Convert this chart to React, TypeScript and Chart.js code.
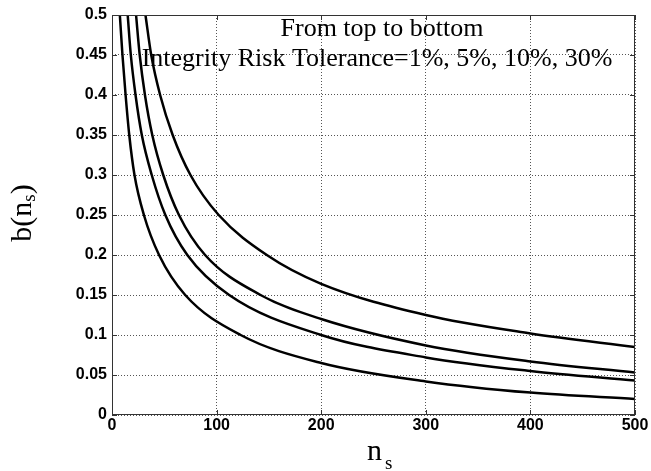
import React, { useEffect, useRef } from "react";
import { Chart, registerables } from "chart.js";

Chart.register(...registerables);

// Axis ticks
const xTickValues = [0, 100, 200, 300, 400, 500];
const yTickValues = [0, 0.05, 0.1, 0.15, 0.2, 0.25, 0.3, 0.35, 0.4, 0.45, 0.5];

// Integrity risk tolerance curves: n_s samples and b(n_s) values
const riskLabels = ["1%", "5%", "10%", "30%"];

const ns1 = [32, 37.5, 46, 58, 75, 102, 148, 200, 300, 400, 500];
const b1 = [0.5, 0.45, 0.4, 0.35, 0.3, 0.25, 0.2, 0.164, 0.125, 0.102, 0.085];

const ns5 = [23, 26.5, 31.5, 38.5, 49, 64, 89, 142, 200, 300, 400, 500];
const b5 = [0.5, 0.45, 0.4, 0.35, 0.3, 0.25, 0.2, 0.15, 0.12, 0.087, 0.067, 0.053];

const ns10 = [15, 18, 22.5, 28.5, 38, 51, 72, 112, 200, 300, 400, 500];
const b10 = [0.5, 0.45, 0.4, 0.35, 0.3, 0.25, 0.2, 0.15, 0.1, 0.072, 0.055, 0.043];

const ns30 = [7.5, 10, 13, 16.5, 21.5, 30.5, 45, 70, 123, 200, 300, 400, 500];
const b30 = [0.5, 0.45, 0.4, 0.35, 0.3, 0.25, 0.2, 0.15, 0.1, 0.065, 0.042, 0.028, 0.02];

const noteLine1 = "From top to bottom";
const noteLine2 = "Integrity Risk Tolerance=1%, 5%, 10%, 30%";

const toPoints = (xs: number[], ys: number[]) => xs.map((x, i) => ({ x, y: ys[i] }));

const SERIF = '"Liberation Serif", "Times New Roman", serif';

// Frame, inside tick marks and all serif texts
const decorPlugin = {
  id: "decor",
  afterDraw(chart: any) {
    const { ctx, chartArea: a, scales } = chart;
    const xs = scales.x;
    const ys = scales.y;
    ctx.save();
    // box
    ctx.strokeStyle = "#333";
    ctx.lineWidth = 1;
    ctx.setLineDash([]);
    ctx.strokeRect(a.left + 0.5, a.top + 0.5, a.right - a.left - 1, a.bottom - a.top - 1);
    // inside ticks
    const tl = 5;
    ctx.beginPath();
    xTickValues.forEach((v) => {
      const px = Math.round(xs.getPixelForValue(v)) + 0.5;
      ctx.moveTo(px, a.bottom);
      ctx.lineTo(px, a.bottom - tl);
      ctx.moveTo(px, a.top);
      ctx.lineTo(px, a.top + tl);
    });
    yTickValues.forEach((v) => {
      const py = Math.round(ys.getPixelForValue(v)) + 0.5;
      ctx.moveTo(a.left, py);
      ctx.lineTo(a.left + tl, py);
      ctx.moveTo(a.right, py);
      ctx.lineTo(a.right - tl, py);
    });
    ctx.stroke();

    ctx.fillStyle = "#000";
    // note inside the plot
    ctx.font = `26px ${SERIF}`;
    ctx.textAlign = "center";
    ctx.textBaseline = "alphabetic";
    ctx.fillText(noteLine1, 382, 36);
    ctx.fillText(noteLine2, 377, 66);

    // x-axis title: n with subscript s
    ctx.textAlign = "left";
    ctx.font = `30px ${SERIF}`;
    const nW = ctx.measureText("n").width;
    const nx = 367;
    ctx.fillText("n", nx, 460);
    ctx.font = `19px ${SERIF}`;
    ctx.fillText("s", nx + nW + 3, 469);

    // y-axis title: b(n_s), rotated
    ctx.translate(31, 213);
    ctx.rotate(-Math.PI / 2);
    ctx.font = `30px ${SERIF}`;
    const w1 = ctx.measureText("b(n").width;
    const w3 = ctx.measureText(")").width;
    ctx.font = `19px ${SERIF}`;
    const w2 = ctx.measureText("s").width;
    const total = w1 + w2 + w3;
    let cx = -total / 2;
    ctx.font = `30px ${SERIF}`;
    ctx.fillText("b(n", cx, 0);
    cx += w1;
    ctx.font = `19px ${SERIF}`;
    ctx.fillText("s", cx, 4);
    cx += w2;
    ctx.font = `30px ${SERIF}`;
    ctx.fillText(")", cx, 0);
    ctx.restore();
  },
};

const fmt = (v: number) => {
  const r = Math.round(v * 100) / 100;
  return String(r);
};

export default function App() {
  const canvasRef = useRef<HTMLCanvasElement | null>(null);

  useEffect(() => {
    if (!canvasRef.current) return;
    const series = [
      toPoints(ns1, b1),
      toPoints(ns5, b5),
      toPoints(ns10, b10),
      toPoints(ns30, b30),
    ];
    const tickFont = { family: '"Liberation Sans", Arial, sans-serif', size: 16, weight: "bold" as const };
    const chart = new Chart(canvasRef.current, {
      type: "scatter",
      data: {
        datasets: series.map((pts, i) => ({
          label: riskLabels[i],
          data: pts,
          showLine: true,
          borderColor: "#000",
          borderWidth: 2.5,
          pointRadius: 0,
          pointHoverRadius: 0,
          cubicInterpolationMode: "monotone" as const,
          fill: false,
        })),
      },
      options: {
        animation: false,
        responsive: false,
        maintainAspectRatio: false,
        layout: { padding: { top: 15, right: 16, left: 0, bottom: 0 } },
        plugins: {
          legend: { display: false },
          tooltip: { enabled: false },
          title: { display: false },
        },
        scales: {
          x: {
            type: "linear",
            min: 0,
            max: 500,
            afterBuildTicks: (scale: any) => {
              scale.ticks = xTickValues.map((v) => ({ value: v }));
            },
            afterFit: (scale: any) => {
              scale.height = 56;
            },
            ticks: {
              color: "#000",
              font: tickFont,
              padding: 1,
              maxRotation: 0,
              autoSkip: false,
              callback: (v: any) => fmt(Number(v)),
            },
            grid: {
              color: "#555",
              lineWidth: 1,
              drawTicks: false,
            },
            border: { display: false, dash: [1, 2] },
          },
          y: {
            type: "linear",
            min: 0,
            max: 0.5,
            afterBuildTicks: (scale: any) => {
              scale.ticks = yTickValues.map((v) => ({ value: v }));
            },
            afterFit: (scale: any) => {
              scale.width = 112;
            },
            ticks: {
              color: "#000",
              font: tickFont,
              padding: 5,
              autoSkip: false,
              callback: (v: any) => fmt(Number(v)),
            },
            grid: {
              color: "#555",
              lineWidth: 1,
              drawTicks: false,
            },
            border: { display: false, dash: [1, 2] },
          },
        },
      },
      plugins: [decorPlugin],
    } as any);
    return () => chart.destroy();
  }, []);

  return (
    <div style={{ position: "absolute", left: 0, top: 0, width: 651, height: 471, background: "#fff" }}>
      <canvas ref={canvasRef} width={651} height={471} style={{ width: 651, height: 471, display: "block" }} />
    </div>
  );
}
